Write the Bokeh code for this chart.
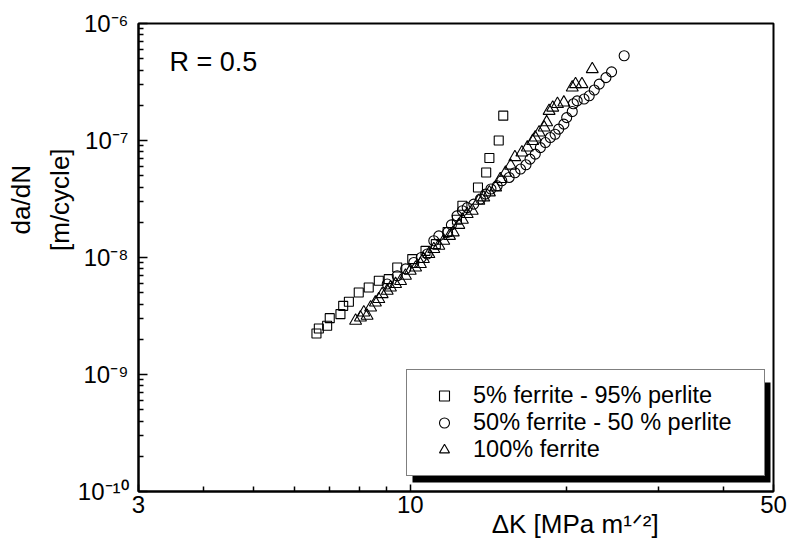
from bokeh.plotting import figure
from bokeh.models import (FixedTicker, Label, Legend, LegendItem, BoxAnnotation,
                          LogAxis, CustomJSTickFormatter)
from bokeh.embed import file_html
from bokeh.resources import INLINE
import math

FONT = "Liberation Sans"
NBSP = "\u00a0"

# ---------------- data ----------------
x_ticks = [3, 10, 50]
x_minor = [4, 5, 6, 7, 8, 9, 20, 30, 40]
y_exponents = [-10, -9, -8, -7, -6]

# 5% ferrite - 95% perlite (squares)
sq_dk = [6.60, 6.67, 6.92, 7.00, 7.34, 7.43, 7.62, 7.96, 8.32, 8.70, 9.09, 9.44,
         10.09, 10.70, 11.2, 11.8, 12.3, 12.6, 13.5, 14.0, 14.2, 14.8, 15.1]
sq_dadn = [2.24e-9, 2.47e-9, 2.61e-9, 3.03e-9, 3.28e-9, 3.86e-9, 4.18e-9, 5.02e-9,
           5.54e-9, 6.32e-9, 6.53e-9, 8.22e-9, 9.69e-9, 1.14e-8, 1.30e-8, 1.65e-8,
           2.10e-8, 2.77e-8, 3.97e-8, 5.33e-8, 7.08e-8, 1.00e-7, 1.63e-7]

# 50% ferrite - 50 % perlite (circles)
ci_dk = [9.03, 9.44, 9.8, 10.16, 10.5, 10.78, 11.1, 11.35, 11.8, 12.0,
         12.3, 12.6, 12.87, 13.25, 13.65, 13.96, 14.3, 14.7, 15.0, 15.5,
         15.9, 16.3, 16.7, 17.0, 17.4, 17.8, 18.2, 18.6, 19.0, 19.3,
         19.75, 20.0, 20.5, 20.6, 20.95, 21.6, 22.1, 22.6, 23.1, 23.8,
         24.4, 25.8]
ci_dadn = [5.93e-9, 6.98e-9, 8.0e-9, 9.06e-9, 1.0e-8, 1.07e-8, 1.39e-8, 1.53e-8, 1.64e-8, 1.9e-8,
           2.27e-8, 2.51e-8, 2.67e-8, 2.86e-8, 3.16e-8, 3.48e-8, 3.85e-8, 4.1e-8, 4.53e-8, 4.83e-8,
           5.3e-8, 5.7e-8, 6.2e-8, 6.93e-8, 7.65e-8, 8.7e-8, 9.6e-8, 1.06e-7, 1.13e-7, 1.25e-7,
           1.38e-7, 1.57e-7, 1.77e-7, 2.06e-7, 2.18e-7, 2.26e-7, 2.41e-7, 2.70e-7, 3.03e-7, 3.45e-7,
           3.86e-7, 5.30e-7]

# 100% ferrite (triangles)
tr_dk = [7.85, 8.02, 8.14, 8.26, 8.39, 8.57, 8.70, 8.83, 9.03, 9.16,
         9.37, 9.58, 9.79, 10.0, 10.24, 10.46, 10.6, 10.86, 11.1, 11.35,
         11.6, 11.9, 12.1, 12.4, 12.6, 12.87, 13.16, 13.55, 13.85, 14.2,
         14.6, 14.9, 15.25, 15.6, 15.9, 16.4, 16.8, 17.2, 17.4, 17.7,
         18.1, 18.3, 18.5, 18.8, 19.2, 19.75, 20.5, 20.8, 21.4, 22.4]
tr_dadn = [2.88e-9, 3.07e-9, 3.39e-9, 3.18e-9, 3.74e-9, 4.12e-9, 4.41e-9, 4.86e-9, 5.19e-9, 5.54e-9,
           5.93e-9, 6.3e-9, 6.98e-9, 7.7e-9, 8.2e-9, 8.8e-9, 9.7e-9, 1.07e-8, 1.18e-8, 1.26e-8,
           1.39e-8, 1.53e-8, 1.64e-8, 1.9e-8, 2.1e-8, 2.35e-8, 2.51e-8, 3.05e-8, 3.26e-8, 3.6e-8,
           3.97e-8, 4.68e-8, 5.3e-8, 6.1e-8, 7.2e-8, 7.9e-8, 8.7e-8, 9.9e-8, 1.06e-7, 1.17e-7,
           1.29e-7, 1.43e-7, 1.79e-7, 1.91e-7, 2.05e-7, 2.11e-7, 2.84e-7, 3.03e-7, 3.03e-7, 4.07e-7]

series_labels = ["5% ferrite - 95% perlite", "50% ferrite - 50 % perlite", "100% ferrite"]
x_title = "ΔK [MPa m¹ᐟ²]"
y_title_1 = "da/dN"
y_title_2 = "[m/cycle]"
r_text = "R = 0.5"

# ---------------- layout ----------------
W, H = 790, 550
BL, BR, BT, BB = 138, 17, 23, 59
FW, FH = W - BL - BR, H - BT - BB          # frame size in px (635 x 468)
X0, X1, Y0, Y1 = 3.0, 50.0, 1e-10, 1e-6


def fx(px):  # frame px (from left) -> data x
    return X0 * 10 ** (px / FW * math.log10(X1 / X0))


def fy(py):  # frame px (from bottom) -> data y
    return Y0 * 10 ** (py / FH * math.log10(Y1 / Y0))


p = figure(width=W, height=H, x_axis_type="log", y_axis_type="log",
           x_range=(X0, X1), y_range=(Y0, Y1),
           output_backend="svg", toolbar_location=None,
           min_border_left=BL, min_border_right=BR, min_border_top=BT, min_border_bottom=BB)
p.grid.visible = False
p.background_fill_color = "white"
p.border_fill_color = "white"
p.outline_line_color = "black"
p.outline_line_width = 2

# ---- x axis
p.xaxis.ticker = FixedTicker(ticks=x_ticks, minor_ticks=x_minor)
p.xaxis.major_label_overrides = {t: str(t) for t in x_ticks}
p.xaxis.major_label_text_font = FONT
p.xaxis.major_label_text_font_size = "24px"
p.xaxis.major_label_text_color = "black"
p.xaxis.major_label_standoff = 4
# the centred title is pushed right with non-breaking spaces
p.xaxis.axis_label = NBSP * 33 + x_title
p.xaxis.axis_label_text_font = FONT
p.xaxis.axis_label_text_font_size = "26px"
p.xaxis.axis_label_text_font_style = "normal"
p.xaxis.axis_label_text_color = "black"
p.xaxis.axis_label_standoff = -7
p.xaxis.major_tick_in = 7
p.xaxis.minor_tick_in = 5

# ---- y axis
y_major = [10.0 ** e for e in y_exponents]
y_minor = [k * 10.0 ** e for e in y_exponents[:-1] for k in range(2, 10)]
p.yaxis.ticker = FixedTicker(ticks=y_major, minor_ticks=y_minor)
p.yaxis.formatter = CustomJSTickFormatter(code="""
    const e = Math.round(Math.log10(tick));
    const sup = {"-": "\u207b", "0": "\u2070", "1": "\u00b9", "2": "\u00b2", "3": "\u00b3",
                 "4": "\u2074", "5": "\u2075", "6": "\u2076", "7": "\u2077", "8": "\u2078", "9": "\u2079"};
    return "10" + String(e).split("").map(c => sup[c]).join("");
""")
p.yaxis.major_label_text_font = FONT
p.yaxis.major_label_text_font_size = "24px"
p.yaxis.major_label_text_color = "black"
p.yaxis.major_label_standoff = 10
# the centred title is pushed up with non-breaking spaces
p.yaxis.axis_label = NBSP * 16 + y_title_2
p.yaxis.axis_label_text_font = FONT
p.yaxis.axis_label_text_font_size = "26px"
p.yaxis.axis_label_text_font_style = "normal"
p.yaxis.axis_label_text_color = "black"
p.yaxis.axis_label_standoff = 0
p.yaxis.major_tick_in = 9
p.yaxis.minor_tick_in = 5

for ax in (p.xaxis, p.yaxis):
    ax.axis_line_width = 2
    ax.axis_line_color = "black"
    ax.major_tick_out = 0
    ax.minor_tick_out = 0
    ax.major_tick_line_width = 1.5
    ax.minor_tick_line_width = 1.5
    ax.major_tick_line_color = "black"
    ax.minor_tick_line_color = "black"

# outer (first) title line of the y axis
ax2 = LogAxis(ticker=FixedTicker(ticks=[], minor_ticks=[]), axis_label=NBSP * 16 + y_title_1,
              axis_label_text_font=FONT, axis_label_text_font_size="26px",
              axis_label_text_font_style="normal", axis_label_text_color="black",
              axis_label_standoff=6, axis_line_color=None,
              major_tick_line_color=None, minor_tick_line_color=None)
p.add_layout(ax2, "left")

# ---- data markers
r_sq = p.scatter(sq_dk, sq_dadn, marker="square", size=9, fill_color=None,
                 line_color="black", line_width=1.1)
r_ci = p.scatter(ci_dk, ci_dadn, marker="circle", size=10, fill_color=None,
                 line_color="black", line_width=1.1)
r_tr = p.scatter(tr_dk, tr_dadn, marker="triangle", size=12, fill_color=None,
                 line_color="black", line_width=1.1)

# ---- R = 0.5
p.add_layout(Label(x=X0, y=Y1, x_offset=31, y_offset=-38, text=r_text,
                   text_font=FONT, text_font_size="27px", text_color="black",
                   text_baseline="alphabetic"))

# ---- legend shadow + legend
LX, LY, LW, LH, SH = 268, 15, 357, 100, 6
p.add_layout(BoxAnnotation(left=fx(LX + SH), right=fx(LX + LW + SH + 1),
                           bottom=fy(LY - SH), top=fy(LY + LH - SH),
                           fill_color="black", fill_alpha=1.0, line_color=None))
legend = Legend(items=[LegendItem(label=series_labels[0], renderers=[r_sq]),
                       LegendItem(label=series_labels[1], renderers=[r_ci]),
                       LegendItem(label=series_labels[2], renderers=[r_tr])],
                location=(LX, LY), margin=0, padding=12, spacing=0,
                glyph_width=50, glyph_height=25, label_height=25, label_width=279,
                label_standoff=4, label_text_font=FONT, label_text_font_size="23.5px",
                label_text_color="black",
                border_line_color="black", border_line_width=1.5,
                background_fill_color="white", background_fill_alpha=1.0)
p.add_layout(legend, "center")

open("out.html", "w").write(file_html(p, INLINE))
